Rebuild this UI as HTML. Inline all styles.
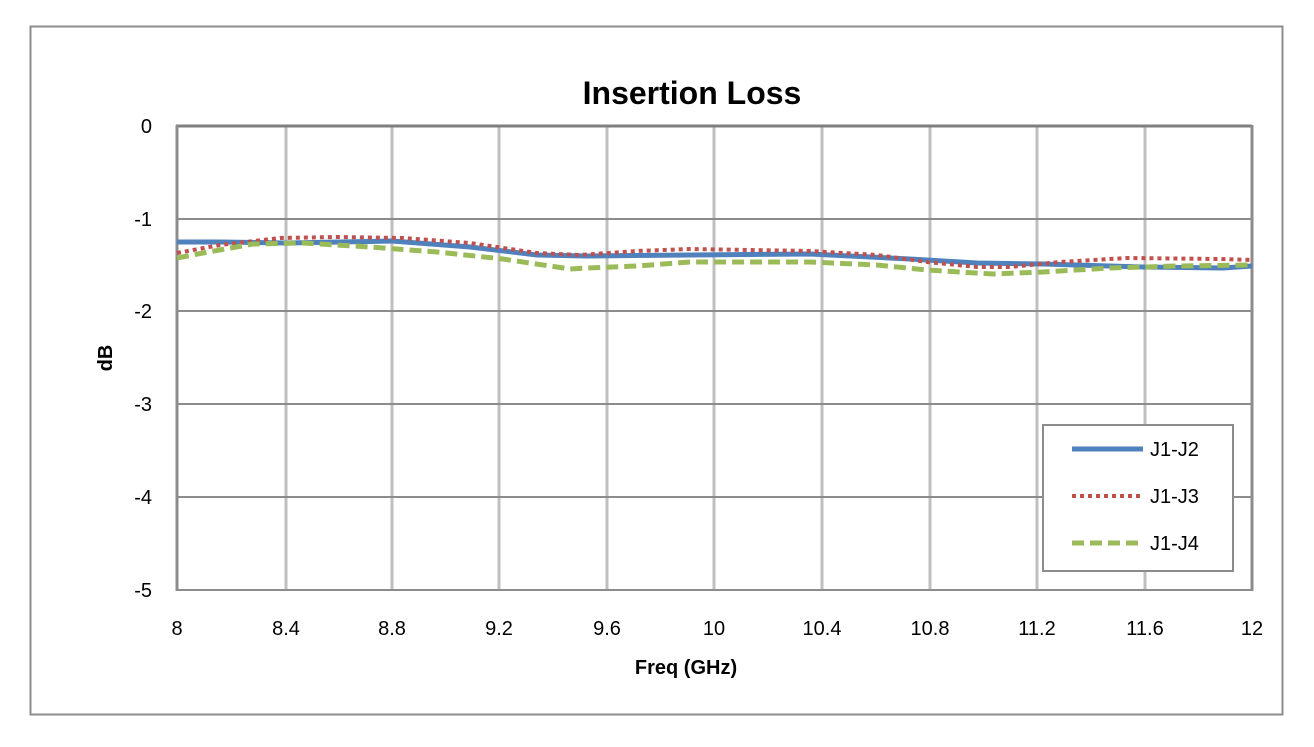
<!DOCTYPE html>
<html><head><style>body{margin:0;background:#fff}svg{display:block}</style></head><body>
<svg width="1314" height="747" xmlns="http://www.w3.org/2000/svg" font-family="Liberation Sans, sans-serif">
<rect x="0" y="0" width="1314" height="747" fill="#fff"/>
<rect x="30.5" y="26.5" width="1252" height="688" fill="none" stroke="#8c8c8c" stroke-width="2"/>
<text x="692" y="104" text-anchor="middle" font-size="32" font-weight="bold">Insertion Loss</text>
<g stroke="#bfbfbf" stroke-width="3">
<line x1="286" y1="126" x2="286" y2="590"/><line x1="392" y1="126" x2="392" y2="590"/>
<line x1="499" y1="126" x2="499" y2="590"/><line x1="607" y1="126" x2="607" y2="590"/>
<line x1="714" y1="126" x2="714" y2="590"/><line x1="822" y1="126" x2="822" y2="590"/>
<line x1="930" y1="126" x2="930" y2="590"/><line x1="1037" y1="126" x2="1037" y2="590"/>
<line x1="1145" y1="126" x2="1145" y2="590"/>
</g>
<g stroke="#8c8c8c" stroke-width="2">
<line x1="177" y1="219" x2="1252" y2="219"/><line x1="177" y1="311" x2="1252" y2="311"/>
<line x1="177" y1="404" x2="1252" y2="404"/><line x1="177" y1="497" x2="1252" y2="497"/>
</g>
<line x1="176" y1="126" x2="1252" y2="126" stroke="#7f7f7f" stroke-width="3"/>
<line x1="177" y1="125" x2="177" y2="591" stroke="#8c8c8c" stroke-width="3"/>
<line x1="1252" y1="125" x2="1252" y2="591" stroke="#8c8c8c" stroke-width="3"/>
<line x1="176" y1="590" x2="1253" y2="590" stroke="#8c8c8c" stroke-width="2"/>
<g font-size="20" text-anchor="end">
<text x="152" y="133">0</text><text x="152" y="226">-1</text><text x="152" y="318">-2</text>
<text x="152" y="411">-3</text><text x="152" y="504">-4</text><text x="152" y="597">-5</text>
</g>
<g font-size="20" text-anchor="middle">
<text x="177" y="635">8</text><text x="286" y="635">8.4</text><text x="392" y="635">8.8</text>
<text x="499" y="635">9.2</text><text x="607" y="635">9.6</text><text x="714" y="635">10</text>
<text x="822" y="635">10.4</text><text x="930" y="635">10.8</text><text x="1037" y="635">11.2</text>
<text x="1145" y="635">11.6</text><text x="1252" y="635">12</text>
</g>
<text x="686" y="674" text-anchor="middle" font-size="20" font-weight="bold">Freq (GHz)</text>
<text transform="translate(112,358) rotate(-90)" text-anchor="middle" font-size="20" font-weight="bold">dB</text>
<g fill="none" stroke-linejoin="round">
<polyline stroke="#4f81bd" stroke-width="5" points="177,242 220,242 286,243 392,241 470,247 537,255 587,256 690,255 810,254 910,259 977,263 1043,264 1143,267 1223,268 1252,266"/>
<polyline stroke="#c0504d" stroke-width="4" stroke-dasharray="4,4" points="177,253 220,245 280,238 337,237 403,238 470,243 537,253 580,255 637,251 690,249 810,251 877,255 927,262 977,267 1010,267 1060,262 1127,258 1220,259 1252,260"/>
<polyline stroke="#9bbb59" stroke-width="5" stroke-dasharray="12,6" points="177,258 203,253 253,244 303,243 370,247 437,252 503,259 570,269 587,268 637,266 690,262 810,262 877,265 927,270 993,274 1043,272 1110,268 1177,266 1252,265"/>
</g>
<rect x="1043" y="425" width="190" height="146" fill="#fff" stroke="#8c8c8c" stroke-width="2"/>
<line x1="1072" y1="449" x2="1143" y2="449" stroke="#4f81bd" stroke-width="5"/>
<line x1="1072" y1="496" x2="1143" y2="496" stroke="#c0504d" stroke-width="4" stroke-dasharray="4,4"/>
<line x1="1072" y1="543" x2="1143" y2="543" stroke="#9bbb59" stroke-width="5" stroke-dasharray="12,6"/>
<g font-size="20"><text x="1150" y="456">J1-J2</text><text x="1150" y="503">J1-J3</text><text x="1150" y="550">J1-J4</text></g>
</svg>
</body></html>
